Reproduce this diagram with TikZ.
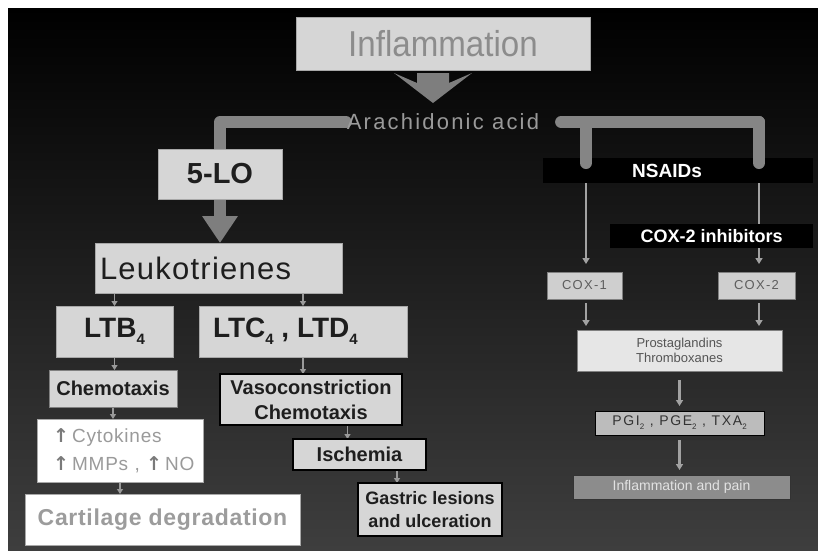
\documentclass[tikz,border=0pt]{standalone}
\usepackage{fontspec}
\setmainfont{Liberation Sans}
\newfontfamily\narrowfont[FakeStretch=0.92]{Liberation Sans}
\newfontfamily\djv{DejaVu Sans}
\usetikzlibrary{arrows.meta,calc}
\pgfdeclarelayer{back}
\pgfdeclarelayer{bg}
\pgfsetlayers{back,bg,main}
\definecolor{bgbot}{HTML}{3E3E3E}
\definecolor{lightfill}{HTML}{D6D6D6}
\definecolor{lightdraw}{HTML}{A8A8A8}
\definecolor{infltxt}{HTML}{8C8C8C}
\definecolor{aatxt}{HTML}{9A9A9A}
\definecolor{arrowgrey}{HTML}{7E7E7E}
\definecolor{bargrey}{HTML}{858585}
\definecolor{txtdark}{HTML}{1E1E1E}
\definecolor{cytotxt}{HTML}{9A9A9A}
\definecolor{upc}{HTML}{7A7A7A}
\definecolor{carttxt}{HTML}{9C9C9C}
\definecolor{coxfill}{HTML}{CFCFCF}
\definecolor{coxtxt}{HTML}{5E5E5E}
\definecolor{pfill}{HTML}{E6E6E6}
\definecolor{ptxt}{HTML}{555555}
\definecolor{pgifill}{HTML}{BCBCBC}
\definecolor{pgitxt}{HTML}{333333}
\definecolor{painfill}{HTML}{8C8C8C}
\definecolor{paintxt}{HTML}{E2E2E2}
\definecolor{thingrey}{HTML}{A2A2A2}
\definecolor{smallgrey}{HTML}{9A9A9A}
\newcommand\lowsub[1]{\raisebox{-7pt}{\fontsize{15}{15}\selectfont #1}}
\newcommand\psub[1]{\raisebox{-4pt}{\fontsize{8}{8}\selectfont #1}}
\newcommand\upar{{\djv\bfseries\color{upc}↑}}
\begin{document}
\begin{tikzpicture}[x=1pt,y=-1pt,
  every node/.style={inner sep=0pt,outer sep=0pt},
  lbox/.style={draw=lightdraw,fill=lightfill,line width=1pt},
  cbox/.style={draw=gray,fill=lightfill,line width=1pt},
  kbox/.style={draw=black,fill=lightfill,line width=1.5pt},
  wbox/.style={draw=lightdraw,fill=white,line width=1pt},
  blk/.style={fill=black,text=white},
  xbox/.style={draw=gray,fill=coxfill,line width=1pt},
  pbox/.style={draw=gray,fill=pfill,line width=1pt},
  gbox/.style={draw=black,fill=pgifill,line width=1pt},
  dbox/.style={draw=black!80,fill=painfill,line width=1pt},
  bar/.style={draw=bargrey,line width=12pt,line cap=round,line join=round},
  bigarrow/.style={draw=arrowgrey,line width=12pt,-{Triangle[width=34pt,length=27pt]}},
  smallcon/.style={draw=smallgrey,line width=1.5pt,-{Triangle[width=6pt,length=5pt]}},
  thincon/.style={draw=thingrey,line width=2.5pt,-{Triangle[width=7pt,length=6pt]}}
]
\useasboundingbox (0,0) rectangle (818,550);
\begin{pgfonlayer}{back}
\fill[white] (0,0) rectangle (818,550);
\shade[top color=black,bottom color=bgbot] (8,8) rectangle (818,550);
\end{pgfonlayer}

% left / top nodes
\node[lbox,minimum width=294pt,minimum height=53pt,text=infltxt,
  font=\narrowfont\fontsize{36}{36}\selectfont] (infl) at (443,43.5) {Inflammation};
\node[text=aatxt,font=\fontsize{22}{22}\selectfont\addfontfeature{LetterSpace=10}] (aa) at (443,122) {Arachidonic acid};
\node[lbox,minimum width=124pt,minimum height=50pt,text=txtdark,
  font=\bfseries\fontsize{29}{29}\selectfont] (lo) at (220,174) {5-LO};
\node[lbox,minimum width=247pt,minimum height=50pt,text=txtdark,
  font=\fontsize{31}{31}\selectfont\addfontfeature{LetterSpace=4}] (leuk) at (218.5,268) {\makebox[237pt][l]{Leukotrienes}};
\node[lbox,minimum width=117pt,minimum height=51pt,text=txtdark,
  font=\bfseries\fontsize{28}{28}\selectfont] (ltb) at (114.5,331.5) {LTB\lowsub{4}};
\node[lbox,minimum width=208pt,minimum height=51pt,text=txtdark,
  font=\bfseries\fontsize{28}{28}\selectfont] (ltc) at (303,331.5) {\makebox[208pt][l]{\hspace*{14pt}LTC\lowsub{4} , LTD\lowsub{4}}};
\node[cbox,minimum width=128pt,minimum height=37pt,text=txtdark,
  font=\bfseries\fontsize{20}{20}\selectfont] (chem) at (113,388.5) {Chemotaxis};
\node[kbox,minimum width=182pt,minimum height=51pt,align=center,text=txtdark,
  font=\bfseries\fontsize{20}{25}\selectfont] (vaso) at (311,399.5) {Vasoconstriction\\Chemotaxis};
\node[wbox,minimum height=63pt,text width=150pt,inner xsep=8pt,align=left,text=cytotxt,
  font=\fontsize{19}{28}\selectfont\addfontfeature{LetterSpace=4}] (cyto) at (120,450.5) {\hspace*{8pt}\upar\,Cytokines\\\hspace*{8pt}\upar\,MMPs , \upar\,NO};
\node[kbox,minimum width=133pt,minimum height=31pt,text=txtdark,
  font=\bfseries\fontsize{20}{20}\selectfont] (isch) at (359.5,454.5) {Ischemia};
\node[kbox,minimum width=144pt,minimum height=53pt,align=center,text=txtdark,
  font=\bfseries\fontsize{18}{23}\selectfont] (gast) at (430,509.5) {Gastric lesions\\and ulceration};
\node[wbox,minimum width=275pt,minimum height=51pt,text=carttxt,
  font=\bfseries\fontsize{23}{23}\selectfont\addfontfeature{LetterSpace=3}] (cart) at (162.5,519.5) {Cartilage degradation};

% right nodes
\node[blk,minimum width=270pt,minimum height=25pt,
  font=\bfseries\fontsize{19}{19}\selectfont] (nsaid) at (678,170.5) {\makebox[270pt]{\hspace*{-22pt}NSAIDs}};
\node[blk,minimum width=203pt,minimum height=24pt,
  font=\bfseries\fontsize{18}{18}\selectfont] (coxi) at (711.5,236) {COX-2 inhibitors};
\node[xbox,minimum width=75pt,minimum height=27pt,text=coxtxt,
  font=\fontsize{13}{13}\selectfont\addfontfeature{LetterSpace=10}] (cox1) at (584.5,285.5) {COX-1};
\node[xbox,minimum width=77pt,minimum height=27pt,text=coxtxt,
  font=\fontsize{13}{13}\selectfont\addfontfeature{LetterSpace=10}] (cox2) at (756.5,285.5) {COX-2};
\node[pbox,minimum width=205pt,minimum height=41pt,align=center,text=ptxt,
  font=\fontsize{13}{15}\selectfont] (prost) at (679.5,350.5) {Prostaglandins\\Thromboxanes};
\node[gbox,minimum width=169pt,minimum height=24pt,text=pgitxt,
  font=\fontsize{14}{14}\selectfont\addfontfeature{LetterSpace=12}] (pgi) at (679.5,423) {PGI\psub{2} , PGE\psub{2} , TXA\psub{2}};
\node[dbox,minimum width=217pt,minimum height=24pt,text=paintxt,
  font=\fontsize{14}{14}\selectfont] (pain) at (681.5,487) {Inflammation and pain};

\coordinate (r1) at (586,122);
\coordinate (r2) at (759,122);
\coordinate (iv) at ([xshift=-12pt]isch.north);
\coordinate (gv) at ([xshift=-33pt]gast.north);
\path (r1 |- nsaid.north) ++(0,5) coordinate (n1);
\path (r2 |- nsaid.north) ++(0,5) coordinate (n2);

\begin{pgfonlayer}{bg}
% big arrow from Inflammation
\fill[arrowgrey] ($(infl.south)+(-49,3)$) -- ($(infl.south)+(-26,13)$) -- ($(infl.south)+(-26,3)$)
  -- ($(infl.south)+(6,3)$) -- ($(infl.south)+(6,13)$) -- ($(infl.south)+(29,3)$)
  -- ($(infl.south)+(-10,33)$) -- cycle;
\draw[bar] ([xshift=-1pt]aa.west) -| (lo.north);
\draw[bar] ([xshift=22pt]aa.east) -- (r2);
\draw[bigarrow] (lo.south) -- (lo.south |- leuk.north);
\draw[smallcon] (ltb.north |- leuk.south) -- (ltb.north);
\draw[smallcon] (ltc.north |- leuk.south) -- (ltc.north);
\draw[smallcon] (ltb.south) -- (ltb.south |- chem.north);
\draw[smallcon] (chem.south) -- (chem.south |- cyto.north);
\draw[smallcon] (cyto.south) -- (cyto.south |- cart.north);
\draw[smallcon] (ltc.south) -- (ltc.south |- vaso.north);
\draw[smallcon] (iv |- vaso.south) -- (iv);
\draw[smallcon] (gv |- isch.south) -- (gv);
\draw[thincon,shorten >=8pt] (r1 |- nsaid.south) -- (r1 |- cox1.north);
\draw[thincon,shorten >=8pt] (r2 |- nsaid.south) -- (r2 |- cox2.north);
\draw[thincon,shorten <=4pt,shorten >=4pt] (r1 |- cox1.south) -- (r1 |- prost.north);
\draw[thincon,shorten <=4pt,shorten >=4pt] (r2 |- cox2.south) -- (r2 |- prost.north);
\draw[thincon,shorten <=9pt,shorten >=5pt] (prost.south) -- (prost.south |- pgi.north);
\draw[thincon,shorten <=5pt,shorten >=5pt] (pgi.south) -- (pgi.south |- pain.north);
\end{pgfonlayer}
% vertical bars over NSAIDs box top
\draw[bar] (r1) -- (n1);
\draw[bar] (r2) -- (n2);
\end{tikzpicture}
\end{document}
